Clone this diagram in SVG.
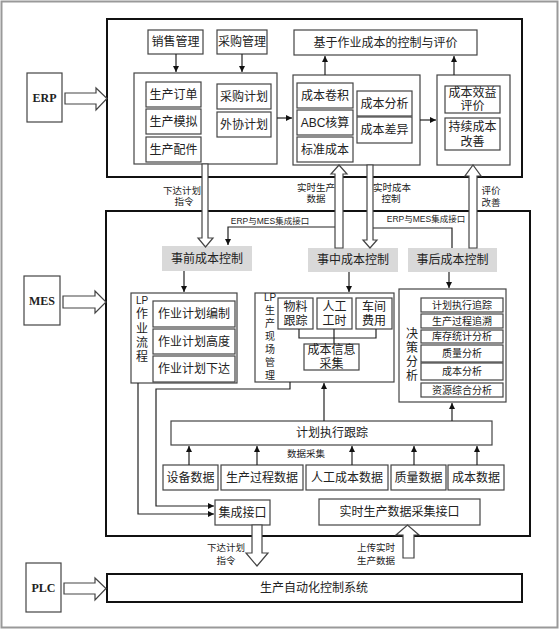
<svg xmlns="http://www.w3.org/2000/svg" width="560" height="630" viewBox="0 0 560 630">
<defs>
<marker id="ah" viewBox="0 0 10 10" refX="10" refY="5" markerWidth="6" markerHeight="6" markerUnits="userSpaceOnUse" orient="auto"><path d="M0,0 L10,5 L0,10 z" fill="#111"/></marker>
<style>
.b{fill:#fff;stroke:#444;stroke-width:1.2}
.f{fill:none;stroke:#111;stroke-width:2}
.g{fill:#d9d9d9}
.t{font-family:"Liberation Sans","Noto Sans CJK SC",sans-serif;font-size:12px;fill:#222;text-anchor:middle;dominant-baseline:central}
.s{font-size:9.5px}
.xs{font-size:8.5px}
.m{font-size:10px}
.r{font-family:"Liberation Serif","Noto Sans CJK SC",serif;font-size:12px;font-weight:bold}
.c{fill:none;stroke:#222;stroke-width:1.2}
.h{fill:#fff;stroke:#444;stroke-width:1.2}
</style>
</defs>
<rect x="0" y="0" width="560" height="630" fill="#fff"/>
<rect x="1.5" y="1.5" width="556" height="626" fill="none" stroke="#999" stroke-width="2"/>

<!-- frames -->
<g id="erp-frame"><rect class="f" x="107" y="19" width="415" height="158"/></g>
<g id="mes-frame"><rect class="f" x="106" y="211" width="424" height="325"/></g>

<!-- side labels -->
<g id="erp"><rect class="b" x="27" y="73" width="35" height="49"/><text class="t r" x="44.5" y="98">ERP</text></g>
<g id="mes"><rect class="b" x="24" y="276" width="36" height="49"/><text class="t r" x="42" y="301">MES</text></g>
<g id="plc"><rect class="b" x="26" y="563" width="35" height="49"/><text class="t r" x="43.5" y="588">PLC</text></g>

<!-- ERP contents -->
<g id="sales"><rect class="b" x="148" y="30" width="55" height="24"/><text class="t" x="175.5" y="42">销售管理</text></g>
<g id="purchase"><rect class="b" x="217" y="30" width="50" height="24"/><text class="t" x="242" y="42">采购管理</text></g>
<g id="abc-eval"><rect class="b" x="294" y="30" width="183" height="25"/><text class="t" x="385.5" y="42.5">基于作业成本的控制与评价</text></g>

<g id="plan-group">
<rect class="b" x="134" y="73" width="143" height="91"/>
<rect class="b" x="146" y="82" width="55" height="25"/><text class="t" x="173.5" y="94.5">生产订单</text>
<rect class="b" x="146" y="109" width="55" height="25"/><text class="t" x="173.5" y="121.5">生产模拟</text>
<rect class="b" x="146" y="137" width="55" height="25"/><text class="t" x="173.5" y="149.5">生产配件</text>
<rect class="b" x="217" y="84" width="54" height="25"/><text class="t" x="244" y="96.5">采购计划</text>
<rect class="b" x="217" y="112" width="54" height="25"/><text class="t" x="244" y="124.5">外协计划</text>
</g>

<g id="cost-group">
<rect class="b" x="293" y="75" width="127" height="90"/>
<rect class="b" x="297" y="83" width="56" height="25"/><text class="t" x="325" y="95.5">成本卷积</text>
<rect class="b" x="297" y="110" width="56" height="25"/><text class="t" x="325" y="122.5">ABC核算</text>
<rect class="b" x="297" y="137" width="56" height="25"/><text class="t" x="325" y="149.5">标准成本</text>
<rect class="b" x="357" y="91" width="55" height="25"/><text class="t" x="384.5" y="103.5">成本分析</text>
<rect class="b" x="357" y="117" width="55" height="26"/><text class="t" x="384.5" y="130">成本差异</text>
</g>

<g id="benefit-group">
<rect class="b" x="437" y="75" width="73" height="90"/>
<rect class="b" x="445" y="86" width="55" height="27"/><text class="t" x="472.5" y="93">成本效益</text><text class="t" x="472.5" y="106">评价</text>
<rect class="b" x="445" y="118" width="55" height="32"/><text class="t" x="472.5" y="127">持续成本</text><text class="t" x="472.5" y="142">改善</text>
</g>

<!-- MES contents -->
<g id="pre-ctrl"><rect class="g" x="162" y="246" width="90" height="25"/><text class="t" x="207" y="258.5">事前成本控制</text></g>
<g id="mid-ctrl"><rect class="g" x="308" y="248" width="90" height="24"/><text class="t" x="353" y="260">事中成本控制</text></g>
<g id="post-ctrl"><rect class="g" x="408" y="248" width="89" height="24"/><text class="t" x="452.5" y="260">事后成本控制</text></g>

<g id="lp-flow">
<rect class="b" x="131" y="293" width="106" height="90"/>
<text class="t m" x="142" y="300">LP</text>
<text class="t" x="142" y="314">作</text>
<text class="t" x="142" y="328.5">业</text>
<text class="t" x="142" y="343">流</text>
<text class="t" x="142" y="357">程</text>
<rect class="b" x="153" y="301" width="82" height="26"/><text class="t" x="194" y="314">作业计划编制</text>
<rect class="b" x="153" y="329" width="82" height="25"/><text class="t" x="194" y="341.5">作业计划高度</text>
<rect class="b" x="153" y="356" width="82" height="26"/><text class="t" x="194" y="369">作业计划下达</text>
</g>

<g id="lp-site">
<rect class="b" x="255" y="293" width="139" height="89"/>
<text class="t m" x="270" y="297">LP</text>
<text class="t m" x="270" y="310">生</text>
<text class="t m" x="270" y="323">产</text>
<text class="t m" x="270" y="336">现</text>
<text class="t m" x="270" y="349">场</text>
<text class="t m" x="270" y="362">管</text>
<text class="t m" x="270" y="375">理</text>
<rect class="b" x="278" y="298" width="35" height="31"/><text class="t" x="295.5" y="306.5">物料</text><text class="t" x="295.5" y="320.5">跟踪</text>
<rect class="b" x="317" y="298" width="35" height="31"/><text class="t" x="334.5" y="306.5">人工</text><text class="t" x="334.5" y="320.5">工时</text>
<rect class="b" x="356" y="298" width="36" height="31"/><text class="t" x="374" y="306.5">车间</text><text class="t" x="374" y="320.5">费用</text>
<path class="c" d="M299,329 V338 H376 V329 M334,329 V344"/>
<rect class="b" x="304" y="344" width="55" height="26"/><text class="t" x="331.5" y="350">成本信息</text><text class="t" x="331.5" y="364">采集</text>
</g>

<g id="decision">
<rect class="b" x="399" y="289" width="107" height="113"/>
<text class="t" x="412" y="334">决</text>
<text class="t" x="412" y="348">策</text>
<text class="t" x="412" y="362">分</text>
<text class="t" x="412" y="376">析</text>
<rect class="b" x="421" y="298" width="82" height="14"/><text class="t m" x="462" y="305">计划执行追踪</text>
<rect class="b" x="421" y="314" width="82" height="14"/><text class="t m" x="462" y="321">生产过程追溯</text>
<rect class="b" x="421" y="330" width="82" height="13"/><text class="t m" x="462" y="336.5">库存统计分析</text>
<rect class="b" x="421" y="345" width="82" height="17"/><text class="t m" x="462" y="353.5">质量分析</text>
<rect class="b" x="421" y="363" width="82" height="17"/><text class="t m" x="462" y="371.5">成本分析</text>
<rect class="b" x="421" y="383" width="82" height="14"/><text class="t m" x="462" y="390">资源综合分析</text>
</g>

<g id="track"><rect class="b" x="171" y="421" width="321" height="24"/><text class="t" x="332" y="433">计划执行跟踪</text></g>

<g id="d1"><rect class="b" x="163" y="465" width="55" height="25"/><text class="t" x="190.5" y="477.5">设备数据</text></g>
<g id="d2"><rect class="b" x="221" y="465" width="82" height="25"/><text class="t" x="262" y="477.5">生产过程数据</text></g>
<g id="d3"><rect class="b" x="306" y="465" width="82" height="25"/><text class="t" x="347" y="477.5">人工成本数据</text></g>
<g id="d4"><rect class="b" x="391" y="465" width="55" height="25"/><text class="t" x="418.5" y="477.5">质量数据</text></g>
<g id="d5"><rect class="b" x="448" y="465" width="56" height="25"/><text class="t" x="476" y="477.5">成本数据</text></g>

<g id="integ"><rect class="b" x="215" y="500" width="55" height="25"/><text class="t" x="242.5" y="512.5">集成接口</text></g>
<g id="rt-if"><rect class="b" x="319" y="499" width="161" height="26"/><text class="t" x="399.5" y="512">实时生产数据采集接口</text></g>

<g id="plc-sys"><rect class="f" x="107" y="574" width="415" height="28"/><text class="t" x="314" y="588">生产自动化控制系统</text></g>

<!-- connectors -->
<g id="connectors">
<path class="c" d="M176,54 V72" marker-end="url(#ah)"/>
<path class="c" d="M242,54 V72" marker-end="url(#ah)"/>
<path class="c" d="M277,118 H292" marker-end="url(#ah)"/>
<path class="c" d="M420,120 H436" marker-end="url(#ah)"/>
<path class="c" d="M325,75 V56" marker-end="url(#ah)"/>
<path class="c" d="M454,75 V56" marker-end="url(#ah)"/>

<path class="c" d="M337,227 H228 V245" marker-end="url(#ah)"/>
<path class="c" d="M373,228 H452 V248"/>

<path class="c" d="M184,271 V292" marker-end="url(#ah)"/>
<path class="c" d="M349,272 V292" marker-end="url(#ah)"/>
<path class="c" d="M449,272 V288" marker-end="url(#ah)"/>

<path class="c" d="M324,421 V383" marker-end="url(#ah)"/>
<path class="c" d="M452,421 V403" marker-end="url(#ah)"/>

<path class="c" d="M189,465 V446" marker-end="url(#ah)"/>
<path class="c" d="M257,465 V446" marker-end="url(#ah)"/>
<path class="c" d="M352,465 V446" marker-end="url(#ah)"/>
<path class="c" d="M414,465 V446" marker-end="url(#ah)"/>
<path class="c" d="M477,465 V446" marker-end="url(#ah)"/>

<path class="c" d="M138,383 V514 H214" marker-end="url(#ah)"/>
<path class="c" d="M290,382 V389 H156 V506 H214" marker-end="url(#ah)"/>

<!-- hollow arrows -->
<polygon class="h" points="65,93 96,93 96,88 107,98.5 96,110 96,104 65,104"/>
<polygon class="h" points="63,296 95,296 95,291 106,302 95,313 95,308 63,308"/>
<polygon class="h" points="64,583 95,583 95,578 106,588.5 95,600 95,594 64,594"/>

<polygon class="h" points="202,164 208,164 208,238 213,238 205.5,247 198,238 202,238"/>
<polygon class="h" points="335,248 335,174 331,174 339,165 347,174 343,174 343,248"/>
<polygon class="h" points="367,165 373,165 373,240 377,240 370,248 363,240 367,240"/>
<polygon class="h" points="469,248 469,176 465,176 473,165 481,176 477,176 477,248"/>
<polygon class="h" points="252,525 262,525 262,553 268,553 257,566 246,553 252,553"/>
<polygon class="h" points="403,558 403,535 396,535 407.5,525 419,535 414,535 414,558"/>

<text class="t s" x="182" y="190">下达计划</text>
<text class="t s" x="184" y="201">指令</text>
<text class="t s" x="316" y="187">实时生产</text>
<text class="t s" x="316" y="198.5">数据</text>
<text class="t s" x="392" y="187">实时成本</text>
<text class="t s" x="391" y="198.5">控制</text>
<text class="t s" x="491" y="190">评价</text>
<text class="t s" x="491" y="202">改善</text>
<text class="t xs" x="270" y="221">ERP与MES集成接口</text>
<text class="t xs" x="426" y="219">ERP与MES集成接口</text>
<text class="t s" x="306" y="453">数据采集</text>
<text class="t s" x="226" y="547">下达计划</text>
<text class="t s" x="226" y="560">指令</text>
<text class="t s" x="376" y="547">上传实时</text>
<text class="t s" x="376" y="560">生产数据</text>
</g>
</svg>
